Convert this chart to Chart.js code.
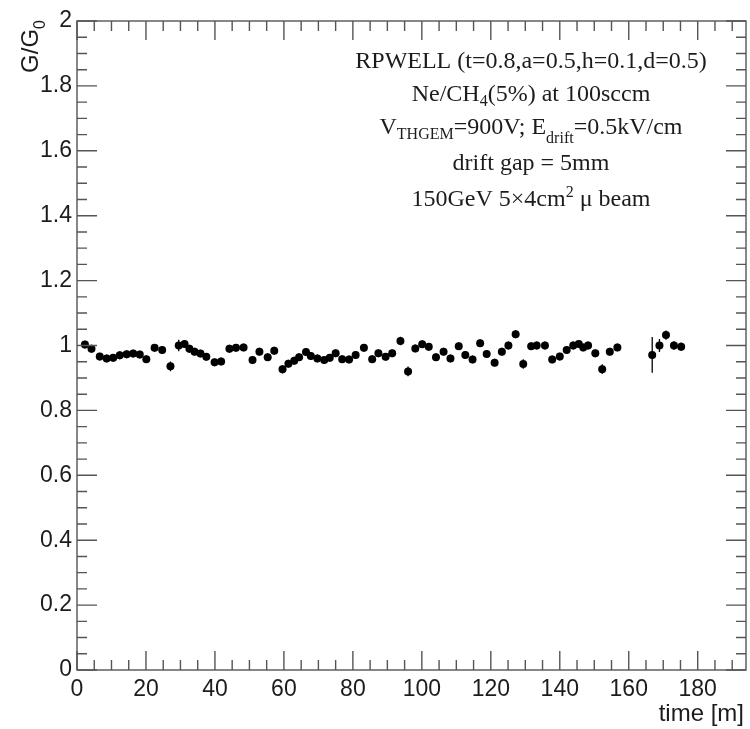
<!DOCTYPE html>
<html>
<head>
<meta charset="utf-8">
<script src="https://cdn.jsdelivr.net/npm/chart.js@4.4.1/dist/chart.umd.min.js"></script>
<style>
  html, body { margin: 0; padding: 0; background: #ffffff; }
  #wrap { width: 750px; height: 729px; }
</style>
</head>
<body>
<div id="wrap"><canvas id="c" width="750" height="729"></canvas></div>
<script>
// Elapsed time of each measurement [minutes]
const timeMin = [
  2.3, 4.2, 6.6, 8.6, 10.5, 12.4, 14.4, 16.3, 18.2, 20.1,
  22.5, 24.7, 27.1, 29.5, 31.2, 32.6, 34.1, 35.8, 37.5, 39.9,
  41.8, 44.2, 46.1, 48.3, 50.9, 52.9, 55.3, 57.2, 59.6, 61.3,
  63.0, 64.4, 66.4, 67.8, 69.7, 71.7, 73.3, 75.0, 76.9, 78.9,
  80.8, 83.2, 85.6, 87.4, 89.5, 91.4, 93.8, 96.0, 98.1, 100.1,
  102.0, 104.1, 106.3, 108.3, 110.7, 112.6, 114.7, 116.9, 118.8, 121.1,
  123.2, 125.1, 127.2, 129.4, 131.7, 133.3, 135.7, 137.8, 140.0, 142.0,
  143.9, 145.5, 146.8, 148.2, 150.3, 152.3, 154.5, 156.7,
  166.8, 168.9, 170.8, 173.1, 175.2
];

// Normalised gain G/G0
const gainRatio = [
  1.003, 0.990, 0.966, 0.960, 0.962, 0.970, 0.973, 0.975, 0.972, 0.958,
  0.993, 0.986, 0.936, 1.000, 1.005, 0.990, 0.981, 0.975, 0.965, 0.948,
  0.951, 0.990, 0.993, 0.994, 0.955, 0.981, 0.964, 0.984, 0.927, 0.944,
  0.953, 0.964, 0.980, 0.968, 0.960, 0.955, 0.962, 0.976, 0.958, 0.957,
  0.971, 0.993, 0.958, 0.976, 0.965, 0.976, 1.014, 0.920, 0.991, 1.004,
  0.996, 0.964, 0.981, 0.960, 0.998, 0.971, 0.957, 1.007, 0.974, 0.947,
  0.981, 1.000, 1.035, 0.943, 0.998, 1.000, 1.000, 0.957, 0.966, 0.986,
  1.000, 1.005, 0.994, 1.000, 0.976, 0.927, 0.981, 0.994,
  0.971, 1.000, 1.032, 1.000, 0.996
];

// Uncertainty on G/G0
const gainErr = [
  0.012, 0.012, 0.012, 0.012, 0.012, 0.012, 0.012, 0.012, 0.012, 0.012,
  0.012, 0.012, 0.015, 0.018, 0.012, 0.012, 0.012, 0.012, 0.012, 0.012,
  0.012, 0.012, 0.012, 0.012, 0.012, 0.012, 0.012, 0.012, 0.013, 0.012,
  0.012, 0.012, 0.012, 0.012, 0.012, 0.012, 0.012, 0.012, 0.012, 0.012,
  0.012, 0.012, 0.012, 0.012, 0.012, 0.012, 0.013, 0.015, 0.012, 0.012,
  0.012, 0.012, 0.012, 0.012, 0.012, 0.012, 0.012, 0.012, 0.012, 0.012,
  0.012, 0.012, 0.013, 0.015, 0.012, 0.012, 0.012, 0.012, 0.012, 0.012,
  0.012, 0.012, 0.012, 0.012, 0.012, 0.015, 0.012, 0.012,
  0.055, 0.020, 0.014, 0.013, 0.013
];

// Half width of each time bin [minutes]
const timeErr = 0.9;

// Axis ranges and tick spacing
const xRange = [0, 194];
const yRange = [0, 2];
const xMajor = 20, xMinor = 5;
const yMajor = 0.2, yMinor = 0.05;

// Annotation lines (rich text segments: plain, subscript, superscript)
const infoLines = [
  [{ t: 'RPWELL (t=0.8,a=0.5,h=0.1,d=0.5)' }],
  [{ t: 'Ne/CH' }, { t: '4', sub: 5 }, { t: '(5%) at 100sccm' }],
  [{ t: 'V' }, { t: 'THGEM', sub: 5 }, { t: '=900V; E' }, { t: 'drift', sub: 9 }, { t: '=0.5kV/cm' }],
  [{ t: 'drift gap = 5mm' }],
  [{ t: '150GeV 5\u00d74cm' }, { t: '2', sup: 9 }, { t: ' \u03bc beam' }]
];

const SANS = '"Liberation Sans", Arimo, Arial, sans-serif';
const SERIF = '"Liberation Serif", "DejaVu Serif", serif';
const INK = '#1c1c1c';
const FRAME = '#555555';

const points = timeMin.map((t, i) => ({ x: t, y: gainRatio[i] }));

function drawRich(ctx, segs, cx, baseY) {
  const big = '24px ' + SERIF, small = '16px ' + SERIF;
  let total = 0;
  const widths = segs.map(s => {
    ctx.font = (s.sub || s.sup) ? small : big;
    const w = ctx.measureText(s.t).width;
    total += w;
    return w;
  });
  let x = cx - total / 2;
  ctx.textAlign = 'left';
  ctx.textBaseline = 'alphabetic';
  segs.forEach((s, i) => {
    ctx.font = (s.sub || s.sup) ? small : big;
    let y = baseY;
    if (s.sub) y += s.sub;
    if (s.sup) y -= s.sup;
    ctx.fillText(s.t, x, y);
    x += widths[i];
  });
}

const rootStyle = {
  id: 'rootStyle',
  beforeDatasetsDraw(chart) {
    // error bars, drawn under the markers
    const ctx = chart.ctx, xs = chart.scales.x, ys = chart.scales.y;
    ctx.save();
    ctx.strokeStyle = '#000';
    ctx.lineWidth = 1.3;
    ctx.beginPath();
    timeMin.forEach((t, i) => {
      const px = xs.getPixelForValue(t);
      const py = ys.getPixelForValue(gainRatio[i]);
      ctx.moveTo(px, ys.getPixelForValue(gainRatio[i] - gainErr[i]));
      ctx.lineTo(px, ys.getPixelForValue(gainRatio[i] + gainErr[i]));
      ctx.moveTo(xs.getPixelForValue(t - timeErr), py);
      ctx.lineTo(xs.getPixelForValue(t + timeErr), py);
    });
    ctx.stroke();
    ctx.restore();
  },
  afterDraw(chart) {
    const ctx = chart.ctx, xs = chart.scales.x, ys = chart.scales.y;
    const a = chart.chartArea;
    ctx.save();
    ctx.strokeStyle = FRAME;
    ctx.lineWidth = 1.4;
    // frame
    ctx.strokeRect(a.left, a.top, a.right - a.left, a.bottom - a.top);
    // inward ticks on all four sides
    ctx.beginPath();
    const nx = Math.round((xRange[1] - xRange[0]) / xMinor);
    for (let k = 0; k <= nx; k++) {
      const v = xRange[0] + k * xMinor;
      if (v > xRange[1]) break;
      const px = xs.getPixelForValue(v);
      const len = (Math.abs(v / xMajor - Math.round(v / xMajor)) < 1e-6) ? 19 : 10;
      ctx.moveTo(px, a.bottom); ctx.lineTo(px, a.bottom - len);
      ctx.moveTo(px, a.top); ctx.lineTo(px, a.top + len);
    }
    const ny = Math.round((yRange[1] - yRange[0]) / yMinor);
    for (let k = 0; k <= ny; k++) {
      const v = yRange[0] + k * yMinor;
      const py = ys.getPixelForValue(v);
      const len = (Math.abs(v / yMajor - Math.round(v / yMajor)) < 1e-6) ? 20 : 10;
      ctx.moveTo(a.left, py); ctx.lineTo(a.left + len, py);
      ctx.moveTo(a.right, py); ctx.lineTo(a.right - len, py);
    }
    ctx.stroke();

    // axis titles
    ctx.fillStyle = INK;
    ctx.font = '24px ' + SANS;
    ctx.textAlign = 'right';
    ctx.textBaseline = 'alphabetic';
    ctx.fillText('time [m]', a.right - 2, 721);

    ctx.save();
    ctx.translate(38, a.top - 1);
    ctx.rotate(-Math.PI / 2);
    ctx.font = '16px ' + SANS;
    const wSub = ctx.measureText('0').width;
    ctx.textAlign = 'right';
    ctx.fillText('0', 0, 7);
    ctx.font = '24px ' + SANS;
    ctx.fillText('G/G', -wSub, 0);
    ctx.restore();

    // annotation block
    ctx.fillStyle = INK;
    const baselines = [68, 101, 134, 170, 206];
    infoLines.forEach((segs, i) => drawRich(ctx, segs, 531, baselines[i]));
    ctx.restore();
  }
};

new Chart(document.getElementById('c'), {
  type: 'scatter',
  data: {
    datasets: [{
      data: points,
      pointStyle: 'circle',
      pointRadius: 4,
      pointBackgroundColor: '#000',
      pointBorderWidth: 0,
      showLine: false
    }]
  },
  options: {
    responsive: false,
    animation: false,
    devicePixelRatio: 1,
    layout: { padding: { top: 21, right: 2, left: 0, bottom: 0 } },
    plugins: { legend: { display: false }, tooltip: { enabled: false } },
    scales: {
      x: {
        type: 'linear',
        position: 'bottom',
        min: xRange[0], max: xRange[1],
        grid: { display: false, drawTicks: false },
        border: { display: false },
        ticks: {
          stepSize: xMajor, includeBounds: false, autoSkip: false, maxRotation: 0,
          padding: 6, color: INK, font: { family: SANS, size: 23 }
        },
        afterFit(s) { s.height = 59; }
      },
      y: {
        type: 'linear',
        min: yRange[0], max: yRange[1],
        grid: { display: false, drawTicks: false },
        border: { display: false },
        ticks: {
          stepSize: yMajor, includeBounds: false, autoSkip: false,
          padding: 5, color: INK, font: { family: SANS, size: 23 },
          callback: v => String(+v.toFixed(1))
        },
        afterFit(s) { s.width = 77; }
      }
    }
  },
  plugins: [rootStyle]
});
</script>
</body>
</html>
